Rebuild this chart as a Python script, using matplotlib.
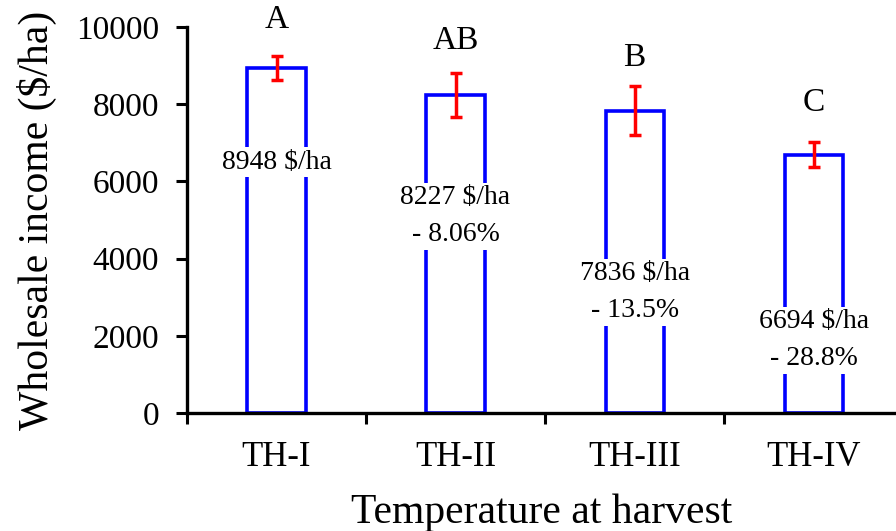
import matplotlib
matplotlib.use("Agg")
import matplotlib.pyplot as plt
import numpy as np

categories = ["TH-I", "TH-II", "TH-III", "TH-IV"]
values = [8948, 8227, 7836, 6694]
errors = [310, 570, 630, 320]
letters = ["A", "AB", "B", "C"]
bar_labels = ["8948 $/ha", "8227 $/ha\n- 8.06%", "7836 $/ha\n- 13.5%", "6694 $/ha\n- 28.8%"]
label_y = [6500, 5100, 3130, 1890]
letter_y = [10180, 9640, 9200, 8030]

plt.rcParams['font.family'] = ['Liberation Serif', 'DejaVu Serif']

fig = plt.figure(figsize=(8.96, 5.31), dpi=100)
ax = fig.add_axes([187/896, (531-413)/531, (896-187)/896, (413-27)/531])

x = np.arange(len(categories))
ax.bar(x, values, width=0.325, facecolor="white", edgecolor="#0000ff", linewidth=2.6, zorder=2)
ax.errorbar(x, values, yerr=errors, fmt="none", ecolor="#ff0000", elinewidth=2.5,
            capsize=4.5, capthick=2.5, zorder=3)

for xi, lab, ly in zip(x, bar_labels, label_y):
    ax.text(xi, ly, lab, ha="center", va="center", fontsize=20, linespacing=1.6,
            bbox=dict(facecolor="white", edgecolor="none", pad=2), zorder=4)
for xi, l, ly in zip(x, letters, letter_y):
    ax.text(xi, ly, l, ha="center", va="center", fontsize=24, zorder=4, clip_on=False)

ax.set_xlim(-0.5, 3.46)
ax.set_ylim(0, 10000)
ax.set_yticks(np.arange(0, 10001, 2000))
ax.set_xticks(x)
ax.set_xticklabels(categories)
ax.set_xticks([-0.5, 0.5, 1.5, 2.5], minor=True)
ax.tick_params(axis="x", which="major", length=0, pad=20, labelsize=25)
ax.tick_params(axis="x", which="minor", length=8, width=2.2, direction="out")
ax.tick_params(axis="y", length=8, width=2.2, direction="out", labelsize=24, pad=12)

for s in ["top", "right"]:
    ax.spines[s].set_visible(False)
for s in ["left", "bottom"]:
    ax.spines[s].set_linewidth(2.4)
    ax.spines[s].set_zorder(5)

ax.set_ylabel("Wholesale income ($/ha)", fontsize=30, labelpad=14)
ax.set_xlabel("Temperature at harvest", fontsize=30, labelpad=14)

fig.savefig("out.png", dpi=100)
